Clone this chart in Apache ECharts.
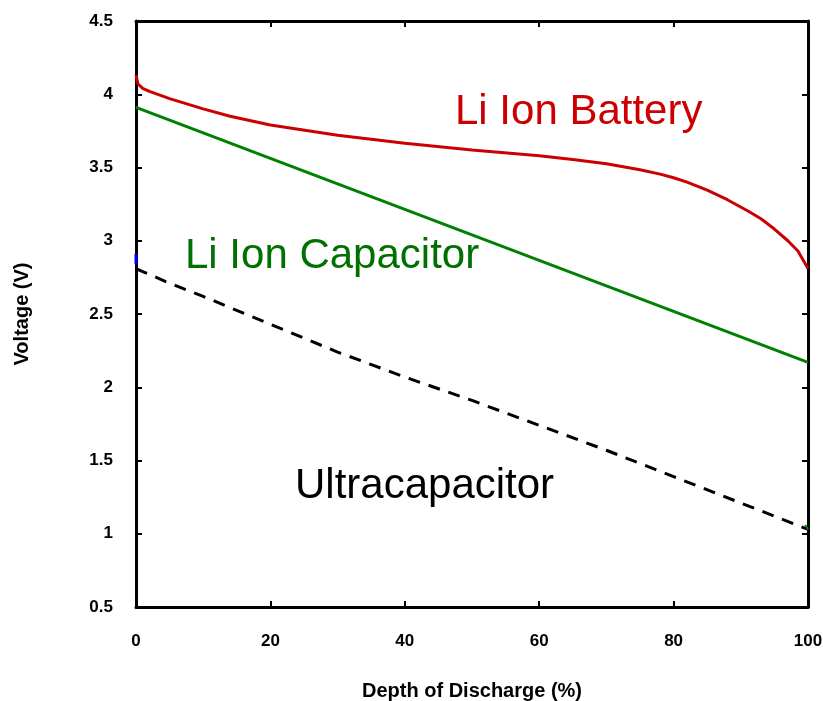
<!DOCTYPE html>
<html>
<head>
<meta charset="utf-8">
<script src="https://cdn.jsdelivr.net/npm/echarts@6/dist/echarts.min.js"></script>
<style>
  html, body { margin: 0; padding: 0; background: #fff; }
  #chart { width: 823px; height: 701px; }
</style>
</head>
<body>
<div id="chart"></div>
<script>
// depth of discharge (%) / voltage (V)
const batteryDod = [0, 0.3, 1, 2, 5, 10, 14, 20, 30, 40, 50, 60, 65, 70, 75, 78, 80, 82, 85, 88, 91, 93, 95, 97, 98.5, 100];
const batteryV = [4.13, 4.07, 4.04, 4.02, 3.97, 3.90, 3.85, 3.79, 3.72, 3.665, 3.62, 3.58, 3.555, 3.525, 3.485, 3.455, 3.43, 3.40, 3.345, 3.28, 3.205, 3.15, 3.08, 3.00, 2.93, 2.81];

const capDod = [0, 100];
const capV = [3.91, 2.17];

const ultraDod = [0, 1, 5, 10, 20, 30, 40, 50, 60, 70, 80, 90, 100];
const ultraV = [2.81, 2.79, 2.71, 2.62, 2.43, 2.24, 2.07, 1.91, 1.74, 1.57, 1.39, 1.21, 1.03];

// small stubs at the ends of the axes
const blueStubDod = [0, 0];
const blueStubV = [2.91, 2.84];
const greenStubDod = [99.6, 100];
const greenStubV = [1.06, 1.03];

const xTicks = { min: 0, max: 100, interval: 20 };
const yTicks = { min: 0.5, max: 4.5, interval: 0.5 };

function pairs(xs, ys) {
  return xs.map((x, i) => [x, ys[i]]);
}

const font = 'Liberation Sans, Arial, sans-serif';
const axisLine = { show: true, onZero: false, lineStyle: { color: '#000', width: 3 } };
const tick = { show: true, inside: true, length: 6, lineStyle: { color: '#000', width: 2 } };

let myChart = echarts.init(document.getElementById('chart'));
let option = {
  animation: false,
  grid: { left: 136, right: 15, top: 21, bottom: 94, outerBoundsMode: 'none' },
  xAxis: [
    {
      type: 'value',
      min: xTicks.min, max: xTicks.max, interval: xTicks.interval,
      name: 'Depth of Discharge (%)',
      nameLocation: 'middle',
      nameGap: 74,
      nameTextStyle: { fontFamily: font, fontWeight: 'bold', fontSize: 20, color: '#000' },
      axisLine: axisLine,
      axisTick: tick,
      splitLine: { show: false },
      axisLabel: { margin: 26, fontFamily: font, fontWeight: 'bold', fontSize: 17, color: '#000' }
    },
    {
      type: 'value', position: 'top',
      min: xTicks.min, max: xTicks.max, interval: xTicks.interval,
      axisLine: axisLine, axisTick: tick, axisLabel: { show: false }, splitLine: { show: false }
    }
  ],
  yAxis: [
    {
      type: 'value',
      min: yTicks.min, max: yTicks.max, interval: yTicks.interval,
      name: 'Voltage (V)',
      nameLocation: 'middle',
      nameGap: 104,
      nameRotate: 90,
      nameTextStyle: { fontFamily: font, fontWeight: 'bold', fontSize: 20, color: '#000' },
      axisLine: axisLine,
      axisTick: tick,
      splitLine: { show: false },
      axisLabel: { margin: 23, fontFamily: font, fontWeight: 'bold', fontSize: 17, color: '#000' }
    },
    {
      type: 'value', position: 'right',
      min: yTicks.min, max: yTicks.max, interval: yTicks.interval,
      axisLine: axisLine, axisTick: tick, axisLabel: { show: false }, splitLine: { show: false }
    }
  ],
  series: [
    {
      name: 'Li Ion Battery',
      type: 'line',
      showSymbol: false,
      data: pairs(batteryDod, batteryV),
      lineStyle: { color: '#cc0000', width: 3 }
    },
    {
      name: 'Li Ion Capacitor',
      type: 'line',
      showSymbol: false,
      data: pairs(capDod, capV),
      lineStyle: { color: '#008000', width: 3 }
    },
    {
      name: 'Ultracapacitor',
      type: 'line',
      showSymbol: false,
      data: pairs(ultraDod, ultraV),
      lineStyle: { color: '#000', width: 3, type: [12, 9] }
    },
    {
      type: 'line',
      showSymbol: false,
      data: pairs(blueStubDod, blueStubV),
      lineStyle: { color: '#0000ff', width: 3 }
    },
    {
      type: 'line',
      showSymbol: false,
      data: pairs(greenStubDod, greenStubV),
      lineStyle: { color: '#008000', width: 2 }
    }
  ],
  graphic: [
    { type: 'text', left: 455, top: 91, style: { text: 'Li Ion Battery', font: '42px ' + font, fill: '#cc0000' } },
    { type: 'text', left: 185, top: 235, style: { text: 'Li Ion Capacitor', font: '42px ' + font, fill: '#007000' } },
    { type: 'text', left: 295, top: 465, style: { text: 'Ultracapacitor', font: '42px ' + font, fill: '#000' } }
  ]
};
myChart.setOption(option);
</script>
</body>
</html>
